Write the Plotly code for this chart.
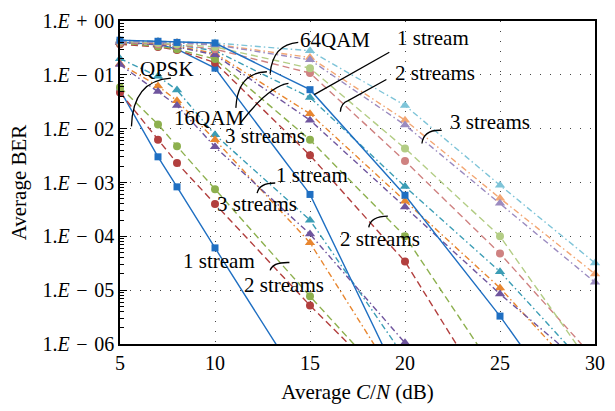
import plotly.graph_objects as go

# ---------------- data ----------------
snr_db = [5, 7, 8, 10, 15, 20, 25, 30]
SP = "\u2004"
ytick_vals = [1e-6, 1e-5, 1e-4, 1e-3, 1e-2, 1e-1, 1]
ytick_text = [f"1.<i>E</i>{SP}−{SP}06", f"1.<i>E</i>{SP}−{SP}05", f"1.<i>E</i>{SP}−{SP}04",
              f"1.<i>E</i>{SP}−{SP}03", f"1.<i>E</i>{SP}−{SP}02", f"1.<i>E</i>{SP}−{SP}01",
              f"1.<i>E</i>{SP}+{SP}00"]
xtick_vals = [5, 10, 15, 20, 25, 30]

# QPSK
qpsk_1s = [5.2e-2, 3.0e-3, 8.3e-4, 6.1e-5, 1.0e-7]
qpsk_2s_a = [4.7e-2, 6.2e-3, 2.3e-3, 4.0e-4, 5.2e-6, 9.1e-8]
qpsk_2s_b = [5.9e-2, 1.2e-2, 4.7e-3, 7.5e-4, 7.7e-6, 9.1e-8]
qpsk_3s_a = [0.20, 9.4e-2, 5.2e-2, 7.7e-3, 2.0e-4, 5.5e-7]
qpsk_3s_b = [0.16, 6.2e-2, 3.3e-2, 6.2e-3, 7.6e-5, 1.2e-7]
qpsk_3s_c = [0.155, 4.9e-2, 2.7e-2, 4.6e-3, 1.1e-4, 1.05e-6]
# 16QAM
qam16_1s = [0.40, 0.37, 0.30, 0.133, 6.0e-4, 1.3e-7]
qam16_2s_a = [0.37, 0.33, 0.29, 0.168, 3.2e-3, 3.4e-5, 4.9e-8]
qam16_2s_b = [0.39, 0.34, 0.30, 0.196, 6.2e-3, 1.0e-4, 2.3e-7]
qam16_3s_a = [0.42, 0.39, 0.36, 0.28, 3.8e-2, 8.4e-4, 2.2e-5, 2.6e-7]
qam16_3s_b = [0.40, 0.37, 0.34, 0.25, 1.9e-2, 4.5e-4, 1.1e-5, 1.3e-7]
qam16_3s_c = [0.40, 0.36, 0.33, 0.235, 1.44e-2, 3.5e-4, 8.5e-6, 2.7e-7]
# 64QAM
qam64_1s = [0.44, 0.42, 0.40, 0.39, 5.3e-2, 5.8e-4, 3.3e-6, 1.1e-8]
qam64_2s_a = [0.40, 0.37, 0.36, 0.30, 0.108, 2.5e-3, 4.8e-5, 5.2e-7]
qam64_2s_b = [0.42, 0.39, 0.37, 0.33, 0.133, 4.3e-3, 1.0e-4, 3.2e-7]
qam64_3s_a = [0.44, 0.42, 0.40, 0.39, 0.28, 2.7e-2, 8.9e-4, 3.2e-5]
qam64_3s_b = [0.43, 0.41, 0.40, 0.37, 0.21, 1.44e-2, 5.1e-4, 2.0e-5]
qam64_3s_c = [0.42, 0.40, 0.39, 0.36, 0.19, 1.17e-2, 4.1e-4, 1.4e-5]

# ---------------- styles ----------------
BLUE = "#1F6FC2"
RED, GREEN, TEAL, ORANGE, PURPLE = "#B23F3E", "#8DB04E", "#3B9DB5", "#E8862F", "#6F559E"
L_RED, L_GREEN, L_TEAL, L_ORANGE, L_PURPLE = "#CF8281", "#B3CD85", "#7EC4D8", "#F3A774", "#9B8BC0"
SOLID, DASH, DASHDOT = "solid", "7px,4px", "6px,3px,1.5px,3px"

series = [
    (qpsk_1s, BLUE, SOLID, "square"),
    (qpsk_2s_a, RED, DASH, "circle"),
    (qpsk_2s_b, GREEN, DASH, "circle"),
    (qpsk_3s_a, TEAL, DASHDOT, "triangle-up"),
    (qpsk_3s_b, ORANGE, DASHDOT, "triangle-up"),
    (qpsk_3s_c, PURPLE, DASHDOT, "triangle-up"),
    (qam16_1s, BLUE, SOLID, "square"),
    (qam16_2s_a, RED, DASH, "circle"),
    (qam16_2s_b, GREEN, DASH, "circle"),
    (qam16_3s_a, TEAL, DASHDOT, "triangle-up"),
    (qam16_3s_b, ORANGE, DASHDOT, "triangle-up"),
    (qam16_3s_c, PURPLE, DASHDOT, "triangle-up"),
    (qam64_2s_a, L_RED, DASH, "circle"),
    (qam64_2s_b, L_GREEN, DASH, "circle"),
    (qam64_3s_a, L_TEAL, DASHDOT, "triangle-up"),
    (qam64_3s_b, L_ORANGE, DASHDOT, "triangle-up"),
    (qam64_3s_c, L_PURPLE, DASHDOT, "triangle-up"),
    (qam64_1s, BLUE, SOLID, "square"),
]

fig = go.Figure()
for vals, col, dash, sym in series:
    xs = snr_db[:len(vals)]
    fig.add_trace(go.Scatter(x=xs, y=vals, mode="lines",
                             line=dict(color=col, width=1.4, dash=dash),
                             showlegend=False, hoverinfo="skip"))
    mx = [x for x, v in zip(xs, vals) if v >= 0.95e-6]
    my = [v for v in vals if v >= 0.95e-6]
    size = 7 if sym == "square" else (8 if sym == "circle" else 9)
    fig.add_trace(go.Scatter(x=mx, y=my, mode="markers", cliponaxis=False,
                             marker=dict(color=col, symbol=sym, size=size, line=dict(width=0)),
                             showlegend=False, hoverinfo="skip"))

# ---------------- callouts (positions in image pixels) ----------------
PL, PR, PT, PB = 120, 605, 13, 344


def px(x):
    return (x - PL) / (PR - PL)


def py(y):
    return (PB - y) / (PB - PT)


lab_font = dict(family="Liberation Serif", size=21, color="black")
labels = [
    ("QPSK", 168, 62), ("16QAM", 211, 112), ("64QAM", 340, 32),
    ("1 stream", 440, 30), ("2 streams", 442, 66), ("3 streams", 498, 117),
    ("3 streams", 268, 131), ("1 stream", 316, 171), ("3 streams", 260, 201),
    ("2 streams", 385, 236), ("1 stream", 221, 259), ("2 streams", 287, 284),
]
for txt, x, y in labels:
    fig.add_annotation(text=txt, x=px(x), y=py(y), xref="paper", yref="paper",
                       showarrow=False, font=lab_font, xanchor="center", yanchor="middle")

curves = [
    [(131.7, 121), (133, 74), (172, 71.5)],
    [(238.3, 102), (240, 66), (270, 65)],
    [(243.3, 117), (272, 80), (292, 77)],
    [(273.3, 67), (276, 37), (302, 35)],
    [(428.3, 138.5), (430, 124), (448.5, 125)],
    [(260, 189.5), (262, 179), (278.5, 179)],
    [(374, 224.5), (376, 213), (393.5, 213)],
    [(273.3, 268.5), (276, 260), (293, 260.5)],
]
for (a, c, b) in curves:
    path = f"M {px(a[0])} {py(a[1])} Q {px(c[0])} {py(c[1])} {px(b[0])} {py(b[1])}"
    fig.add_shape(type="path", path=path, xref="paper", yref="paper",
                  line=dict(color="black", width=1.3))
fig.add_shape(type="path", xref="paper", yref="paper", line=dict(color="black", width=1.3),
              path=f"M {px(318.3)} {py(88.5)} L {px(395)} {py(45)}")
fig.add_shape(type="path", xref="paper", yref="paper", line=dict(color="black", width=1.3),
              path=f"M {px(345)} {py(106)} Q {px(345.5)} {py(97)} {px(353)} {py(94.5)} L {px(392)} {py(73)}")

font = dict(family="Liberation Serif", size=20, color="black")
title_font = dict(family="Liberation Serif", size=21, color="black")
fig.update_layout(
    width=615, height=411,
    margin=dict(l=PL, r=615 - PR, t=PT, b=411 - PB),
    paper_bgcolor="white", plot_bgcolor="white",
    font=font,
    xaxis=dict(range=[5, 30], tickvals=xtick_vals, ticks="", showline=True, linecolor="black",
               linewidth=1.5, mirror=True, showgrid=True, gridcolor="#444", gridwidth=1.2,
               griddash="1px,9px", zeroline=False, tickfont=font, ticklabeloverflow="allow",
               title=dict(text="Average <i>C</i>/<i>N</i> (dB)", font=title_font, standoff=12)),
    yaxis=dict(type="log", range=[-6, 0], tickvals=ytick_vals, ticktext=ytick_text,
               ticks="inside", ticklen=7, tickcolor="black", showline=True, linecolor="black",
               linewidth=1.5, mirror=True, showgrid=True, gridcolor="#444", gridwidth=1.2,
               griddash="1px,9px", zeroline=False, tickfont=font, ticklabeloverflow="allow",
               minor=dict(ticks="inside", ticklen=4, tickcolor="black", dtick="D1", showgrid=False),
               title=dict(text="Average BER", font=title_font, standoff=10)),
)

fig.write_html("out.html", config={"displayModeBar": False},
               post_script="document.body.style.margin='0px';document.body.style.overflow='hidden';")
